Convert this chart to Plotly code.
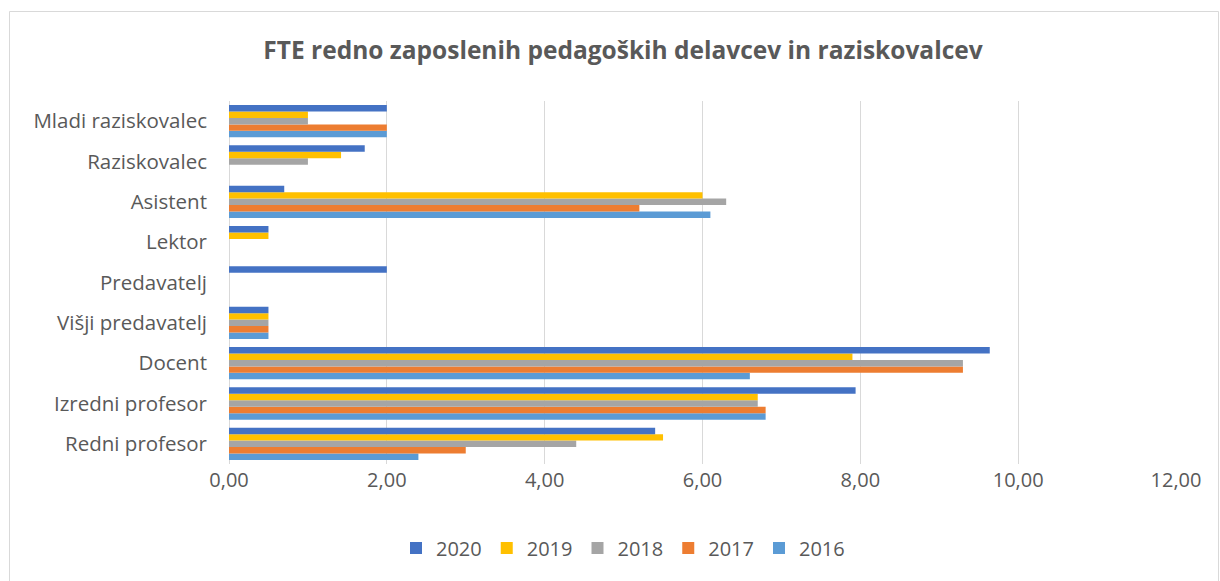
import plotly.graph_objects as go

categories = ["Redni profesor", "Izredni profesor", "Docent", "Višji predavatelj",
              "Predavatelj", "Lektor", "Asistent", "Raziskovalec", "Mladi raziskovalec"]

v2020 = [5.40, 7.94, 9.64, 0.50, 2.00, 0.50, 0.70, 1.72, 2.00]
v2019 = [5.50, 6.70, 7.90, 0.50, None, 0.50, 6.00, 1.42, 1.00]
v2018 = [4.40, 6.70, 9.30, 0.50, None, None, 6.30, 1.00, 1.00]
v2017 = [3.00, 6.80, 9.30, 0.50, None, None, 5.20, None, 2.00]
v2016 = [2.40, 6.80, 6.60, 0.50, None, None, 6.10, None, 2.00]

series = [("2016", v2016, "#5B9BD5"), ("2017", v2017, "#ED7D31"),
          ("2018", v2018, "#A5A5A5"), ("2019", v2019, "#FFC000"),
          ("2020", v2020, "#4472C4")]

W, H = 1220, 581
L, R, T, B = 229, 1176, 101, 464

fig = go.Figure()
for name, vals, col in series:
    fig.add_trace(go.Bar(y=categories, x=vals, name=name, orientation="h",
                         marker=dict(color=col, line=dict(width=0))))

pw, ph = R - L, B - T
def px(x): return (x - L) / pw
def py(y): return (B - y) / ph

fig.add_shape(type="rect", xref="paper", yref="paper",
              x0=px(9.5), x1=px(1218.5), y0=py(595), y1=py(11.5),
              line=dict(color="#D9D9D9", width=1), fillcolor="rgba(0,0,0,0)", layer="below")

fig.update_layout(
    width=W, height=H,
    margin=dict(l=L, r=W - R, t=T, b=H - B, pad=0),
    paper_bgcolor="white", plot_bgcolor="white",
    barmode="group", bargap=0.2, bargroupgap=0,
    separators=", ",
    font=dict(family="Open Sans", color="#595959", size=20),
    title=dict(text="<b>FTE redno zaposlenih pedagoških delavcev in raziskovalcev</b>",
               xref="container", x=623 / W, xanchor="center", y=1 - 50 / H, yanchor="middle",
               font=dict(family="Open Sans", size=24.5, color="#595959")),
    xaxis=dict(range=[0, 12], dtick=2, tickformat=".2f", showgrid=True,
               gridcolor="#D9D9D9", gridwidth=1, zeroline=True, zerolinecolor="#D9D9D9",
               zerolinewidth=1, showline=False, ticks="", ticklabelstandoff=2,
               tickfont=dict(size=20, color="#595959")),
    yaxis=dict(showgrid=False, showline=False, ticks="", ticklabelstandoff=21,
               tickfont=dict(size=20.5, color="#595959")),
    legend=dict(orientation="h", x=px(623), xanchor="center", y=py(548), yanchor="middle",
                traceorder="reversed", font=dict(size=20, color="#595959"),
                itemwidth=30),
    showlegend=True,
)

fig.write_html("out.html", config={"displayModeBar": False},
               post_script="document.body.style.margin='0';document.body.style.overflow='hidden';")
